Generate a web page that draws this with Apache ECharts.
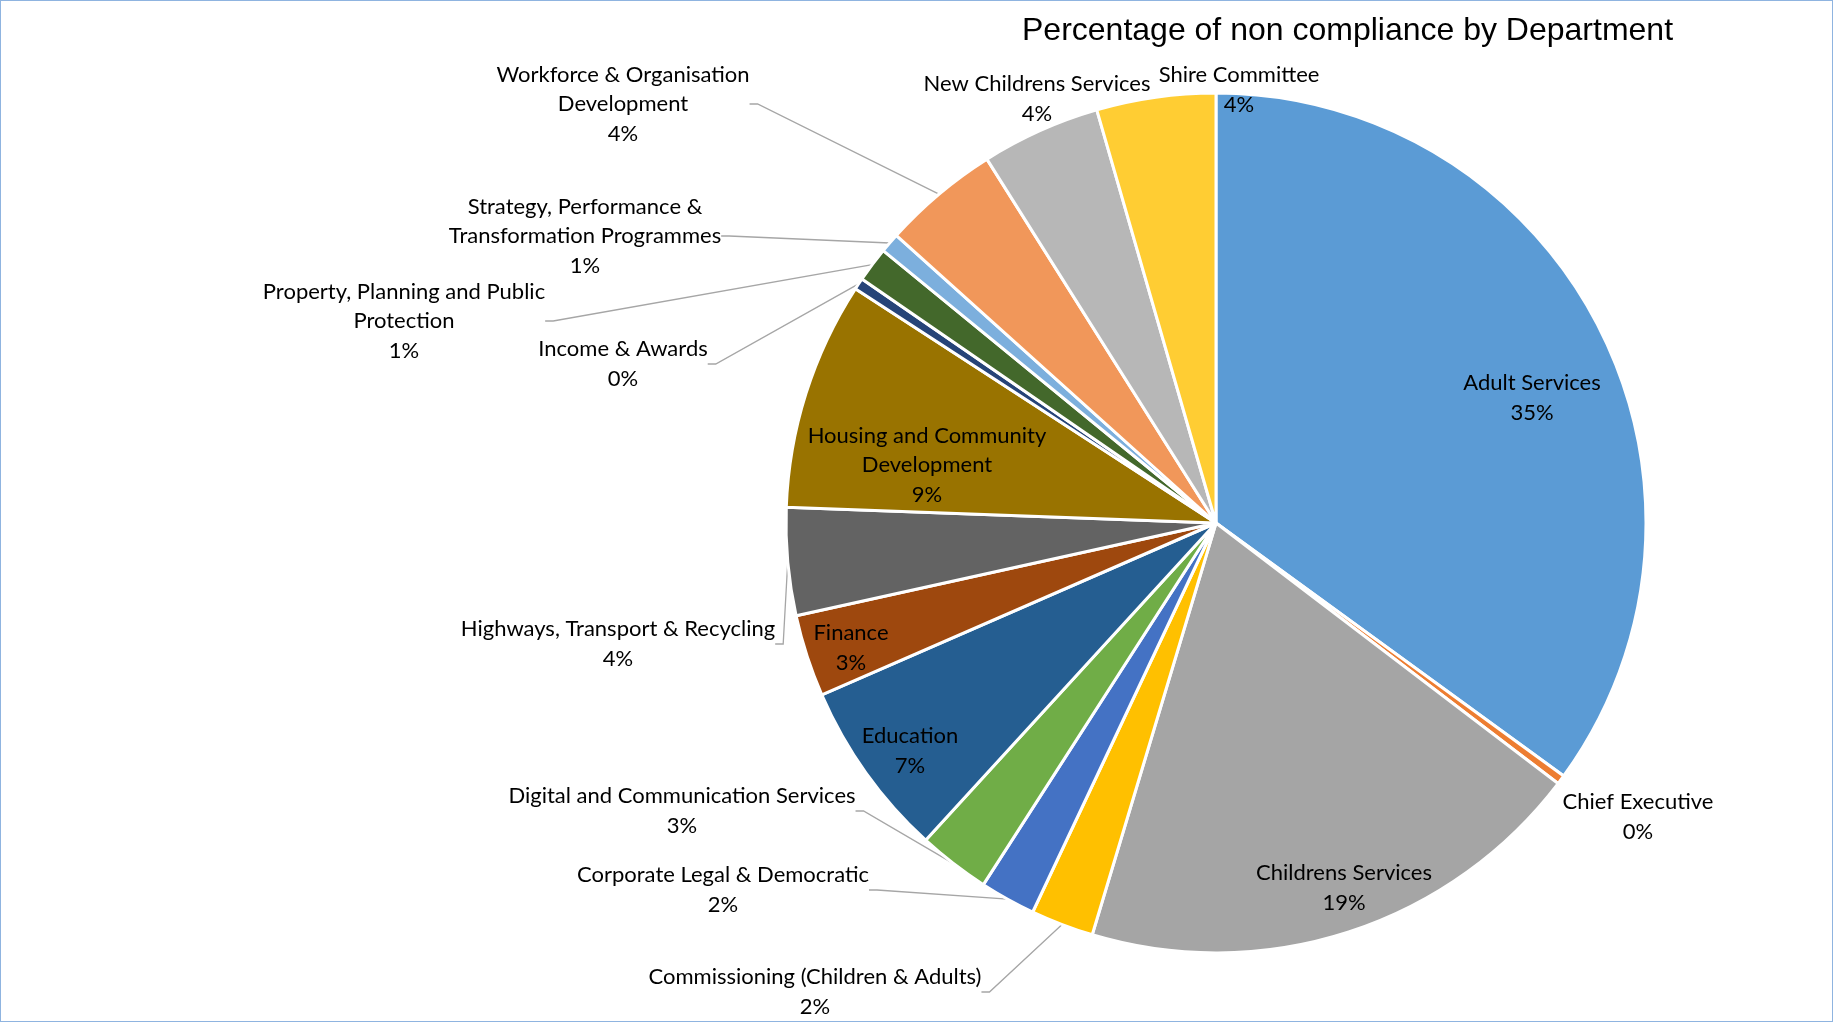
<!DOCTYPE html>
<html>
<head>
<meta charset="utf-8">
<script src="https://cdn.jsdelivr.net/npm/echarts@6/dist/echarts.min.js"></script>
<style>
html, body { margin: 0; padding: 0; background: #fff; }
#chart { width: 1831px; height: 1020px; border: 1px solid #8fb4e0; }
</style>
</head>
<body>
<div id="chart"></div>
<script>
// 部门 / 占比 (%)
var departments = [
    'Adult Services',
    'Chief Executive',
    'Childrens Services',
    'Commissioning (Children & Adults)',
    'Corporate Legal & Democratic',
    'Digital and Communication Services',
    'Education',
    'Finance',
    'Highways, Transport & Recycling',
    'Housing and Community\nDevelopment',
    'Income & Awards',
    'Property, Planning and Public\nProtection',
    'Strategy, Performance &\nTransformation Programmes',
    'Workforce & Organisation\nDevelopment',
    'New Childrens Services',
    'Shire Committee'
];
var shares = [35.0, 0.35, 19.28, 2.36, 2.09, 2.7, 6.66, 3.08, 4.04, 8.58, 0.44, 1.31, 0.74, 4.4, 4.47, 4.47];
var colours = ['#5B9BD5', '#ED7D31', '#A5A5A5', '#FFC000', '#4472C4', '#70AD47', '#255E91', '#9E480E',
               '#636363', '#997300', '#264478', '#43682B', '#7CAFDD', '#F1975A', '#B7B7B7', '#FFCD33'];

// labels drawn inside the slice, and outside labels that have no leader line
var insideLabels = [0, 2, 6, 7, 9];
var noLeader = [1, 14, 15];

// where each label block sits (centre), as Excel placed them
var labelCentres = [
    [1531, 397], [1637, 816], [1343, 887], [814, 991], [722, 889], [681, 810],
    [909, 750], [850, 647], [617, 643], [926, 464], [622, 363], [403, 320],
    [584, 235], [622, 103], [1036, 98], [1238, 89]
];

var pieData = [];
for (var i = 0; i < departments.length; i++) {
    var inside = insideLabels.indexOf(i) >= 0;
    pieData.push({
        name: departments[i],
        value: shares[i],
        itemStyle: { color: colours[i] },
        label: { position: inside ? 'inside' : 'outside' },
        labelLine: { show: !inside && noLeader.indexOf(i) < 0 }
    });
}

var chartDom = document.getElementById('chart');
var myChart = echarts.init(chartDom);

var option = {
    animation: false,
    title: {
        text: 'Percentage of non compliance by Department',
        left: 1021,
        top: 14,
        padding: 0,
        textStyle: {
            fontFamily: 'Liberation Sans',
            fontSize: 32,
            fontWeight: 'normal',
            color: '#000'
        }
    },
    series: [{
        name: 'Department',
        type: 'pie',
        center: [1215, 522],
        radius: 430,
        startAngle: 90,
        clockwise: true,
        avoidLabelOverlap: false,
        itemStyle: { borderColor: '#fff', borderWidth: 3 },
        label: {
            show: true,
            fontFamily: 'Lato',
            fontSize: 22,
            lineHeight: 29.5,
            color: '#000',
            formatter: function (p) {
                return p.name + '\n' + Math.round(p.percent) + '%';
            }
        },
        labelLine: {
            length: 10,
            length2: 8,
            lineStyle: { color: '#a6a6a6', width: 1.3 }
        },
        labelLayout: function (p) {
            var c = labelCentres[p.dataIndex];
            return { x: c[0], y: c[1], align: 'center', verticalAlign: 'middle' };
        },
        emphasis: { disabled: true },
        data: pieData
    }]
};

myChart.setOption(option);
</script>
</body>
</html>
